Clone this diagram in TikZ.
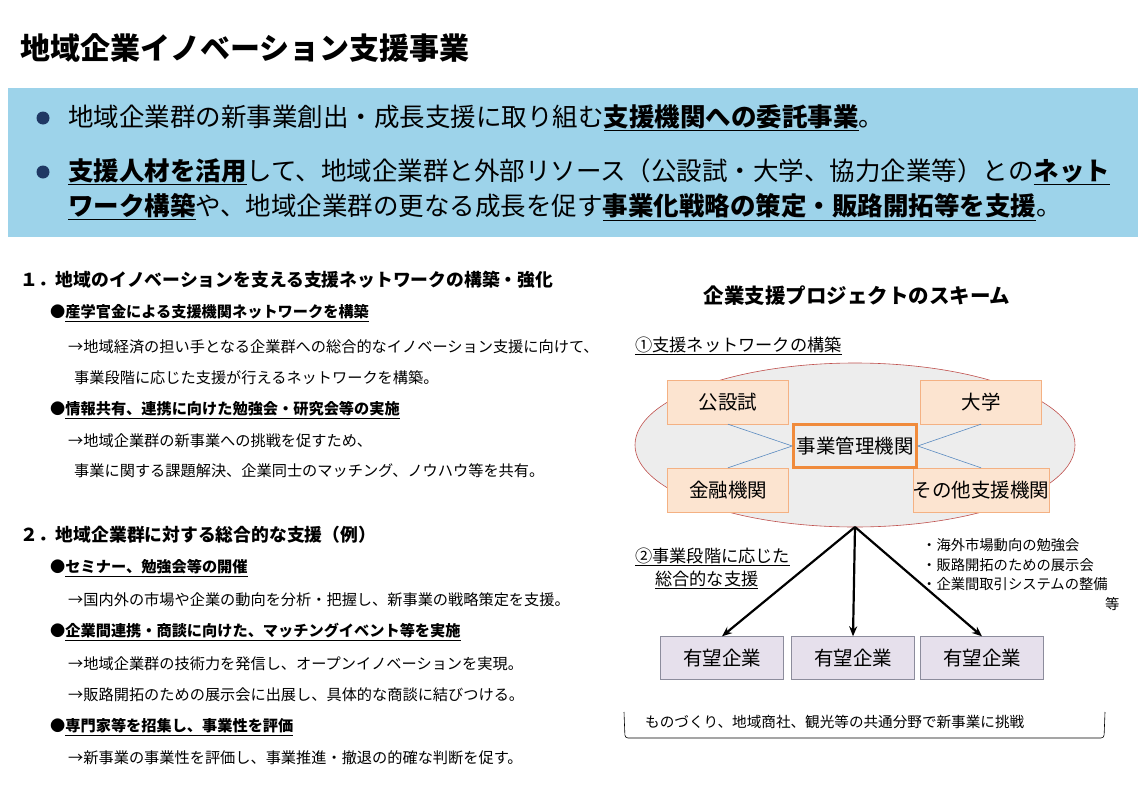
\documentclass[tikz,border=0pt]{standalone}
\usepackage{fontspec}
\setmainfont{Noto Sans CJK JP}
\usetikzlibrary{positioning,arrows.meta}
\definecolor{bannerblue}{HTML}{9DD3EA}
\definecolor{orgfill}{HTML}{FCE4D0}
\definecolor{orgline}{HTML}{F4B183}
\definecolor{corefill}{HTML}{EDEDED}
\definecolor{coreline}{HTML}{F08B3C}
\definecolor{ringline}{HTML}{C0504D}
\definecolor{firmfill}{HTML}{E6E0EC}
\definecolor{firmline}{HTML}{8C8C9C}
\definecolor{linkblue}{HTML}{5B8BC0}
\definecolor{dotblue}{HTML}{1F3864}
\newcommand{\fs}[1]{\fontsize{#1}{#1}\selectfont}
\newcommand{\ul}[1]{\underline{#1}}
\tikzset{
  org/.style={draw=orgline,fill=orgfill,minimum width=121pt,minimum height=44pt,inner sep=0pt,font=\fs{19.5}},
  firm/.style={draw=firmline,fill=firmfill,minimum width=123pt,minimum height=43pt,inner sep=0pt,font=\fs{19.5}},
  txt/.style={anchor=west,inner sep=0pt},
  body/.style={txt,font=\fs{15.2}},
  item/.style={txt,font=\bfseries\fs{15.2}},
  flow/.style={-{Stealth[length=10pt,width=8pt]},line width=2.2pt},
  link/.style={linkblue,line width=0.6pt}
}
\begin{document}
\begin{tikzpicture}[x=1pt,y=-1pt]
\useasboundingbox[fill=white] (0,0) rectangle (1141,790);
% title and banner
\node[txt,font=\bfseries\fs{30}] (title) at (20,48) {地域企業イノベーション支援事業};
\fill[bannerblue] (8,88) rectangle (1138,237);
\fill[dotblue] (43,118) circle (6.5);
\fill[dotblue] (43,172) circle (6.5);
\node[txt,font=\fs{25.5}] (b1) at (68,118) {地域企業群の新事業創出・成長支援に取り組む\textbf{\ul{支援機関への委託事業}}。};
\node[txt,font=\fs{25.5}] (b2) at (68,172) {\textbf{\ul{支援人材を活用}}して、地域企業群と外部リソース（公設試・大学、協力企業等）との\textbf{\ul{ネット}}};
\node[txt,font=\fs{25.5}] (b3) at (68,207) {\textbf{\ul{ワーク構築}}や、地域企業群の更なる成長を促す\textbf{\ul{事業化戦略の策定・販路開拓等を支援}}。};
% left column
\node[txt,font=\bfseries\fs{17.8}] (h1) at (20,280) {１．地域のイノベーションを支える支援ネットワークの構築・強化};
\node[item] (i11) at (50,313) {●\ul{産学官金による支援機関ネットワークを構築}};
\node[body] (t11) at (68,347) {→地域経済の担い手となる企業群への総合的なイノベーション支援に向けて、};
\node[body] (t12) at (74,378) {事業段階に応じた支援が行えるネットワークを構築。};
\node[item] (i12) at (50,410) {●\ul{情報共有、連携に向けた勉強会・研究会等の実施}};
\node[body] (t13) at (68,441) {→地域企業群の新事業への挑戦を促すため、};
\node[body] (t14) at (74,471) {事業に関する課題解決、企業同士のマッチング、ノウハウ等を共有。};
\node[txt,font=\bfseries\fs{17.8}] (h2) at (20,535) {２．地域企業群に対する総合的な支援（例）};
\node[item] (i21) at (50,568) {●\ul{セミナー、勉強会等の開催}};
\node[body] (t21) at (68,600) {→国内外の市場や企業の動向を分析・把握し、新事業の戦略策定を支援。};
\node[item] (i22) at (50,632) {●\ul{企業間連携・商談に向けた、マッチングイベント等を実施}};
\node[body] (t22) at (68,664) {→地域企業群の技術力を発信し、オープンイノベーションを実現。};
\node[body] (t23) at (68,695) {→販路開拓のための展示会に出展し、具体的な商談に結びつける。};
\node[item] (i23) at (50,727) {●\ul{専門家等を招集し、事業性を評価}};
\node[body] (t24) at (68,758) {→新事業の事業性を評価し、事業推進・撤退の的確な判断を促す。};
% right scheme
\node[font=\bfseries\fs{20.5}] (scheme) at (857,296) {企業支援プロジェクトのスキーム};
\node[txt,font=\fs{17.2}] (step1) at (635,346) {\ul{①支援ネットワークの構築}};
\draw[ringline,fill=corefill,line width=0.6pt] (855,445) ellipse (220 and 82);
\coordinate (ringbottom) at (855,527);
\node[org] (kosetsu) at (728,402) {公設試};
\node[org] (daigaku) at (981,402) {大学};
\node[org] (kinyu) at (728,490) {金融機関};
\node[org] (sonota) at (981,490) {その他支援機関};
\node[draw=coreline,fill=corefill,line width=2.5pt,minimum width=123pt,minimum height=43pt,inner sep=0pt,font=\fs{19.5}] (core) at (855,446) {事業管理機関};
\draw[link] (kosetsu.south) -- (core.west);
\draw[link] (kinyu.north) -- (core.west);
\draw[link] (daigaku.south) -- (core.east);
\draw[link] (sonota.north) -- (core.east);
\node[txt,font=\fs{17.2}] (step2a) at (635,557) {\ul{②事業段階に応じた}};
\node[txt,font=\fs{17.2}] (step2b) at (655,580) {\ul{総合的な支援}};
\node[txt,font=\fs{14.3}] (n1) at (922,545) {・海外市場動向の勉強会};
\node[txt,font=\fs{14.3}] (n2) at (922,565) {・販路開拓のための展示会};
\node[txt,font=\fs{14.3}] (n3) at (922,584) {・企業間取引システムの整備};
\node[txt,font=\fs{14.3}] (n4) at (1105,604) {等};
\node[firm] (firm1) at (722,658) {有望企業};
\node[firm] (firm2) at (853,658) {有望企業};
\node[firm] (firm3) at (982,658) {有望企業};
\draw[flow] (ringbottom) -- (firm1.north);
\draw[flow] (ringbottom) -- (firm2.north);
\draw[flow] (ringbottom) -- (firm3.north);
\draw[line width=0.6pt,rounded corners=3pt] (624,712) -- (625,738) -- (1104,738) -- (1105,712);
\node[txt,font=\fs{14.6}] (field) at (645,722) {ものづくり、地域商社、観光等の共通分野で新事業に挑戦};
\end{tikzpicture}
\end{document}
